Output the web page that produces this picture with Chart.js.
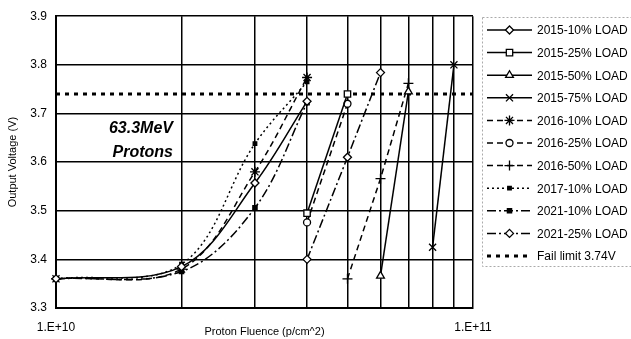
<!DOCTYPE html>
<html>
<head>
<meta charset="utf-8">
<script src="https://cdn.jsdelivr.net/npm/chart.js@4"></script>
<style>
  html, body { margin: 0; padding: 0; background: #fff; }
  #chart { display: block; }
</style>
</head>
<body>
<canvas id="chart" width="631" height="339"></canvas>
<script>
// ==============================
// DATA
// ==============================
const SERIES_NAMES = [
  "2015-10% LOAD", "2015-25% LOAD", "2015-50% LOAD", "2015-75% LOAD",
  "2016-10% LOAD", "2016-25% LOAD", "2016-50% LOAD",
  "2017-10% LOAD", "2021-10% LOAD", "2021-25% LOAD"
];

const FLUENCE_2015_10 = [1e10, 2e10, 3e10, 4e10];
const VOLTS_2015_10   = [3.36, 3.385, 3.557, 3.725];

const FLUENCE_2015_25 = [4e10, 5e10];
const VOLTS_2015_25   = [3.495, 3.74];

const FLUENCE_2015_50 = [6e10, 7e10];
const VOLTS_2015_50   = [3.366, 3.745];

const FLUENCE_2015_75 = [8e10, 9e10];
const VOLTS_2015_75   = [3.425, 3.80];

const FLUENCE_2016_10 = [1e10, 2e10, 3e10, 4e10];
const VOLTS_2016_10   = [3.36, 3.38, 3.58, 3.774];

const FLUENCE_2016_25 = [4e10, 5e10];
const VOLTS_2016_25   = [3.476, 3.72];

const FLUENCE_2016_50 = [5e10, 6e10, 7e10];
const VOLTS_2016_50   = [3.36, 3.566, 3.762];

const FLUENCE_2017_10 = [1e10, 2e10, 3e10, 4e10];
const VOLTS_2017_10   = [3.36, 3.39, 3.638, 3.765];

const FLUENCE_2021_10 = [1e10, 2e10, 3e10, 4e10];
const VOLTS_2021_10   = [3.36, 3.375, 3.506, 3.722];

const FLUENCE_2021_25 = [4e10, 5e10, 6e10];
const VOLTS_2021_25   = [3.40, 3.61, 3.784];

const FAIL_LIMIT = 3.74;
const FAIL_LABEL = "Fail limit 3.74V";

// gridlines at 1..10 x 1e10, labels only on the decades
const X_GRID_TICKS = [1e10, 2e10, 3e10, 4e10, 5e10, 6e10, 7e10, 8e10, 9e10, 1e11];
const X_LABELED_TICKS = [1e10, 1e11];
const X_TICK_TEXT = ["1.E+10", "1.E+11"];

const FONT = "'Liberation Sans', Arial, sans-serif";

// ==============================
// STYLES
// ==============================
const DASH = {
  solid: [],
  dashed: [6, 4],
  dotted: [2, 3],
  dashdot: [9, 3, 2, 3]
};

function pts(xs, ys) {
  return xs.map((x, i) => ({ x: x, y: ys[i] }));
}

function series(label, xs, ys, dash, pointStyle, radius, filled, smooth) {
  return {
    label: label,
    data: pts(xs, ys),
    showLine: true,
    borderColor: "#000",
    borderWidth: 1.5,
    borderDash: dash,
    tension: smooth ? 0.35 : 0,
    pointStyle: pointStyle,
    pointRadius: radius,
    pointBorderWidth: 1.3,
    pointBorderColor: "#000",
    pointBackgroundColor: filled ? "#000" : "#fff",
    clip: false
  };
}

const datasets = [
  series(SERIES_NAMES[0], FLUENCE_2015_10, VOLTS_2015_10, DASH.solid,   "rectRot",  4,   false, true),
  series(SERIES_NAMES[1], FLUENCE_2015_25, VOLTS_2015_25, DASH.solid,   "rect",     4.5, false, false),
  series(SERIES_NAMES[2], FLUENCE_2015_50, VOLTS_2015_50, DASH.solid,   "triangle", 4.5, false, false),
  series(SERIES_NAMES[3], FLUENCE_2015_75, VOLTS_2015_75, DASH.solid,   "crossRot", 5,   false, false),
  series(SERIES_NAMES[4], FLUENCE_2016_10, VOLTS_2016_10, DASH.dashed,  "star",     5,   false, true),
  series(SERIES_NAMES[5], FLUENCE_2016_25, VOLTS_2016_25, DASH.dashed,  "circle",   3.5, false, false),
  series(SERIES_NAMES[6], FLUENCE_2016_50, VOLTS_2016_50, DASH.dashed,  "cross",    5,   false, false),
  series(SERIES_NAMES[7], FLUENCE_2017_10, VOLTS_2017_10, DASH.dotted,  "rect",     2.5, true,  true),
  series(SERIES_NAMES[8], FLUENCE_2021_10, VOLTS_2021_10, DASH.dashdot, "rect",     3,   true,  true),
  series(SERIES_NAMES[9], FLUENCE_2021_25, VOLTS_2021_25, DASH.dashdot, "rectRot",  4,   false, false),
  {
    label: FAIL_LABEL,
    data: pts(X_LABELED_TICKS, [FAIL_LIMIT, FAIL_LIMIT]),
    showLine: true,
    borderColor: "#000",
    borderWidth: 3,
    borderDash: [4, 5],
    pointRadius: 0,
    clip: false
  }
];

// ==============================
// PLUGINS: legend box + annotation
// ==============================
const legendPlugin = {
  id: "sideLegend",
  afterDraw(chart) {
    const ctx = chart.ctx;
    ctx.save();
    ctx.strokeStyle = "#aaa";
    ctx.lineWidth = 1;
    ctx.setLineDash([2, 2]);
    ctx.strokeRect(482.5, 17.5, 170, 249);

    chart.data.datasets.forEach((ds, i) => {
      const y = 30 + i * 22.6;
      ctx.strokeStyle = "#000";
      ctx.lineWidth = ds.borderWidth;
      ctx.setLineDash(ds.borderDash || []);
      ctx.beginPath();
      ctx.moveTo(487, y);
      ctx.lineTo(532, y);
      ctx.stroke();

      if (ds.pointRadius > 0) {
        ctx.setLineDash([]);
        ctx.lineWidth = ds.pointBorderWidth;
        ctx.fillStyle = ds.pointBackgroundColor;
        ctx.strokeStyle = "#000";
        Chart.helpers.drawPoint(ctx, {
          pointStyle: ds.pointStyle,
          radius: ds.pointRadius,
          rotation: 0,
          borderWidth: ds.pointBorderWidth
        }, 509.5, y);
      }

      ctx.fillStyle = "#000";
      ctx.font = "12px " + FONT;
      ctx.textAlign = "left";
      ctx.textBaseline = "middle";
      ctx.fillText(ds.label, 537, y + 1);
    });
    ctx.restore();
  }
};

const notePlugin = {
  id: "beamNote",
  afterDraw(chart) {
    const ctx = chart.ctx;
    ctx.save();
    ctx.fillStyle = "#000";
    ctx.font = "italic bold 16px " + FONT;
    ctx.textAlign = "right";
    ctx.textBaseline = "middle";
    ctx.fillText("63.3MeV", 173, 129);
    ctx.fillText("Protons", 173, 153);
    ctx.restore();
  }
};

// ==============================
// CHART
// ==============================
new Chart(document.getElementById("chart").getContext("2d"), {
  type: "scatter",
  data: { datasets: datasets },
  plugins: [legendPlugin, notePlugin],
  options: {
    responsive: false,
    animation: false,
    layout: { padding: { left: 0, right: 158, top: 16, bottom: 0 } },
    plugins: {
      legend: { display: false },
      tooltip: { enabled: false }
    },
    scales: {
      x: {
        type: "logarithmic",
        min: 1e10,
        max: 1e11,
        afterBuildTicks: s => { s.ticks = X_GRID_TICKS.map(v => ({ value: v })); },
        afterFit: s => { s.height = 31; },
        border: { display: true, color: "#000", width: 2 },
        grid: { color: "#000", lineWidth: 1.5, drawTicks: false },
        ticks: {
          autoSkip: false,
          maxRotation: 0,
          padding: 12,
          color: "#000",
          font: { family: FONT, size: 12 },
          callback: v => {
            const k = X_LABELED_TICKS.indexOf(v);
            return k >= 0 ? X_TICK_TEXT[k] : "";
          }
        },
        title: {
          display: true,
          text: "Proton Fluence (p/cm^2)",
          color: "#000",
          font: { family: FONT, size: 11 },
          padding: { top: 0, bottom: 0 }
        }
      },
      y: {
        min: 3.3,
        max: 3.9,
        afterFit: s => { s.width = 56; },
        border: { display: true, color: "#000", width: 2 },
        grid: { color: "#000", lineWidth: 1.5, drawTicks: false },
        ticks: {
          stepSize: 0.1,
          padding: 9,
          color: "#000",
          font: { family: FONT, size: 12 },
          callback: v => Number(v).toFixed(1)
        },
        title: {
          display: true,
          text: "Output Voltage (V)",
          color: "#000",
          font: { family: FONT, size: 11 },
          padding: { top: 6, bottom: 0 }
        }
      }
    }
  }
});
</script>
</body>
</html>
